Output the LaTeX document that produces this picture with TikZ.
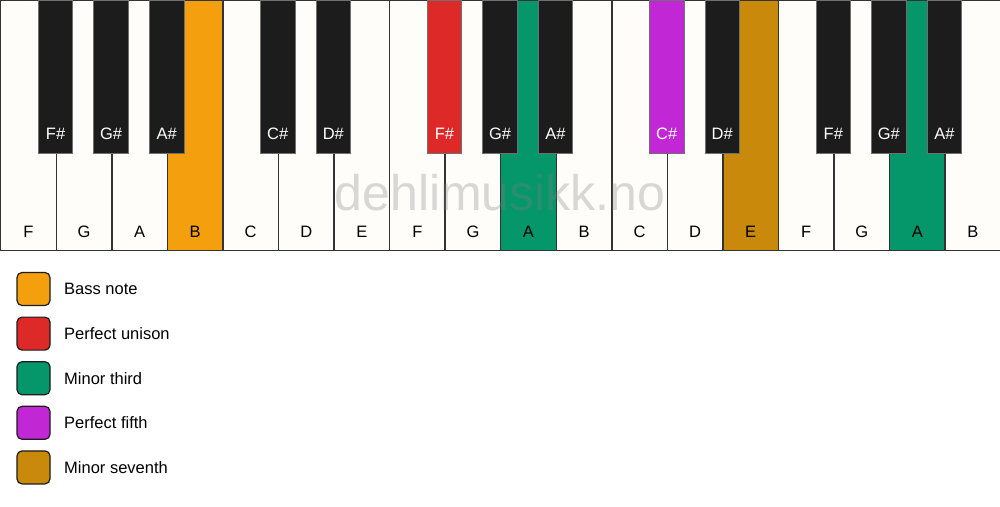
\documentclass[tikz,border=0pt]{standalone}
\usepackage{fontspec}
\setmainfont{Liberation Sans}
\definecolor{keywhite}{HTML}{FEFDFA}
\definecolor{keyblack}{HTML}{1C1C1C}
\definecolor{cbass}{HTML}{F49F0E}
\definecolor{cunison}{HTML}{DE2929}
\definecolor{cthird}{HTML}{05966A}
\definecolor{cfifth}{HTML}{C127D4}
\definecolor{cseventh}{HTML}{C9890A}
\definecolor{edge}{HTML}{333333}
\begin{document}
\begin{tikzpicture}[x=1pt,y=-1pt,
  whitekey/.style={draw=edge,line width=1.4pt,fill=keywhite,minimum width=55.56pt,minimum height=250pt,inner sep=0pt,anchor=north west},
  blackkey/.style={draw=edge!70,line width=0.8pt,fill=keyblack,minimum width=34.5pt,minimum height=153pt,inner sep=0pt,anchor=north},
  wlabel/.style={font=\fontsize{16.5}{19}\selectfont,text=black,inner sep=0pt},
  blabel/.style={font=\fontsize{16.5}{19}\selectfont,text=white,inner sep=0pt},
  legbox/.style={draw=keyblack,line width=1.2pt,rounded corners=5pt,minimum width=33pt,minimum height=33pt,inner sep=0pt},
  legtext/.style={font=\fontsize{16.5}{19}\selectfont,anchor=west,inner sep=0pt},
  water/.style={font=\fontsize{50}{60}\selectfont,text=gray,opacity=0.3,inner sep=0pt}]
\useasboundingbox (0,0) rectangle (1000,506);
\fill[white] (0,0) rectangle (1000,506);
% white keys
\foreach \n/\nm/\c in {0/F/keywhite,1/G/keywhite,2/A/keywhite,3/B/cbass,4/C/keywhite,5/D/keywhite,6/E/keywhite,7/F/keywhite,8/G/keywhite,9/A/cthird,10/B/keywhite,11/C/keywhite,12/D/keywhite,13/E/cseventh,14/F/keywhite,15/G/keywhite,16/A/cthird,17/B/keywhite}{
  \node[whitekey,fill=\c] (w\n) at (\n*55.5556,0) {};
  \node[wlabel] (wl\n) at ([yshift=20pt]w\n.south) {\nm};
}
% black keys
\foreach \n/\nm/\c in {1/F\#/keyblack,2/G\#/keyblack,3/A\#/keyblack,5/C\#/keyblack,6/D\#/keyblack,8/F\#/cunison,9/G\#/keyblack,10/A\#/keyblack,12/C\#/cfifth,13/D\#/keyblack,15/F\#/keyblack,16/G\#/keyblack,17/A\#/keyblack}{
  \node[blackkey,fill=\c] (b\n) at (\n*55.5556,0) {};
  \node[blabel] (bl\n) at ([yshift=20pt]b\n.south) {\nm};
}
% watermark
\node[water] (wm) at (500,193) {dehlimusikk.no};
% legend
\foreach \i/\c/\t in {0/cbass/Bass note,1/cunison/Perfect unison,2/cthird/Minor third,3/cfifth/Perfect fifth,4/cseventh/Minor seventh}{
  \node[legbox,fill=\c] (lb\i) at (33.5,289+\i*44.6) {};
  \node[legtext] (lt\i) at (64,289+\i*44.6) {\t};
}
\end{tikzpicture}
\end{document}
